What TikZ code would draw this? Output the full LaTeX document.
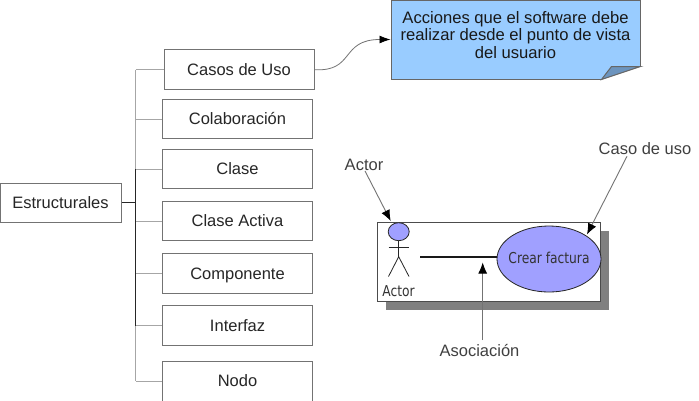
\documentclass[tikz,border=0pt]{standalone}
\usepackage{fontspec}
\setmainfont{Liberation Sans}
\newfontfamily\condfont{DejaVu Sans Condensed}
\usetikzlibrary{shapes.geometric,arrows.meta,calc}
\definecolor{notefill}{RGB}{153,204,255}
\definecolor{foldfill}{RGB}{108,148,190}
\definecolor{umlfill}{RGB}{160,160,255}
\tikzset{
  itembox/.style={draw=black!55,line width=1pt,fill=white,minimum width=150.5pt,minimum height=39.5pt,inner sep=0pt,font=\fontsize{16.5}{18}\selectfont,text=black!85,text height=14pt,text depth=2.5pt},
  branch/.style={draw=black!35,line width=1pt},
  hubline/.style={draw=black!85,line width=1.2pt},
  tag/.style={font=\fontsize{16.5}{18}\selectfont,text=black!75,inner sep=0pt},
  pointer/.style={draw=black!55,line width=.9pt,-{Latex[length=11pt,width=9pt,black]}},
  umlink/.style={draw=black!85,line width=.8pt},
  umltext/.style={font=\condfont\fontsize{15}{18}\selectfont,text=black!80,inner sep=0pt,xscale=.91,transform shape}
}
\begin{document}
\begin{tikzpicture}[x=1pt,y=-1pt]
\useasboundingbox (0,0) rectangle (699,400);
\fill[white] (0,0) rectangle (699,400);
% boxes
\node[itembox,minimum width=121pt,minimum height=39pt] (est) at (60.5,202.5) {Estructurales};
\node[itembox,minimum width=150pt] (casos) at (239,69.7) {Casos de Uso};
\node[itembox] (colab) at (237.5,119.2) {Colaboración};
\node[itembox] (clase) at (237.5,169) {Clase};
\node[itembox] (activa) at (237.5,221.2) {Clase Activa};
\node[itembox] (comp) at (237.5,273.7) {Componente};
\node[itembox] (inter) at (237.5,325.7) {Interfaz};
\node[itembox,minimum height=40pt] (nodo) at (237.5,381) {Nodo};
% tree
\coordinate (hub) at (135.5,202.5);
\foreach \n in {casos,colab,clase,activa,comp,inter,nodo}{
  \draw[branch] (\n.west) -- (\n.west -| hub);
}
\draw[branch] (casos.west -| hub) -- (nodo.west -| hub);
\draw[hubline] (clase.west -| hub) -- (inter.west -| hub);
\draw[hubline] (est.east) -- (hub);
% note
\node[draw=black!60,line width=1pt,fill=notefill,minimum width=249pt,minimum height=79pt,inner sep=0pt] (note) at (515.5,39.5) {};
\node[inner sep=0pt,align=center,font=\fontsize{16.6}{17.6}\selectfont,text=black!90] (notetext) at (515.5,35) {Acciones que el software debe\\realizar desde el punto de vista\\del usuario};
\fill[white] ($(note.south east)+(1,1)$) -- ($(note.south east)+(-39,1)$) -- ($(note.south east)+(-39,0)$) -- ($(note.south east)+(0,-13)$) -- ($(note.south east)+(1,-13)$) -- cycle;
\draw[draw=black!60,line width=1pt,fill=foldfill] ($(note.south east)+(-39,0)$) -- ($(note.south east)+(-29,-13)$) -- ($(note.south east)+(0,-13)$) -- cycle;
\draw[draw=black!55,line width=.8pt,-{Latex[length=11pt,width=8pt,black]}] (casos.east) .. controls (355,72) and (340,39.5) .. (note.west);
% uml picture
\fill[black!50] (386,231) rectangle (608.7,309.5);
\node[draw=black!70,line width=1pt,fill=white,minimum width=223pt,minimum height=78.7pt,inner sep=0pt] (frame) at (489.2,261.7) {};
\node[ellipse,draw=black!85,line width=.8pt,fill=umlfill,minimum width=104pt,minimum height=66pt,inner sep=0pt] (usecase) at (549,259) {};
\node[umltext] (uctext) at (549,258) {Crear factura};
\node[ellipse,draw=black!85,line width=.8pt,fill=umlfill,minimum width=21pt,minimum height=18pt,inner sep=0pt] (head) at (398.7,231.7) {};
\coordinate (neck) at (398.7,256.7);
\draw[umlink] (head.south) -- (neck);
\draw[umlink] (388.5,247.7) -- (409,247.7);
\draw[umlink] (388.5,276.5) -- (neck) -- (409,276.5);
\node[umltext] (actorname) at (398.5,291) {Actor};
\coordinate (assocstart) at (420,257);
\draw[draw=black!90,line width=1.3pt] (assocstart) -- (usecase.west |- assocstart);
% labels
\node[tag] (lactor) at (364,165) {Actor};
\node[tag] (lcaso) at (645,149) {Caso de uso};
\node[tag] (lasoc) at (479.5,350.5) {Asociación};
\coordinate (asoctip) at (482.7,262.5);
\coordinate (actortip) at (390.7,221);
\coordinate (casotip) at (587,234.5);
\draw[pointer] (lactor.south) ++(1,0) -- (actortip);
\draw[pointer] (lcaso.south) ++(-18,1) -- (casotip);
\draw[pointer] (482.7,340) -- (asoctip);
\end{tikzpicture}
\end{document}
